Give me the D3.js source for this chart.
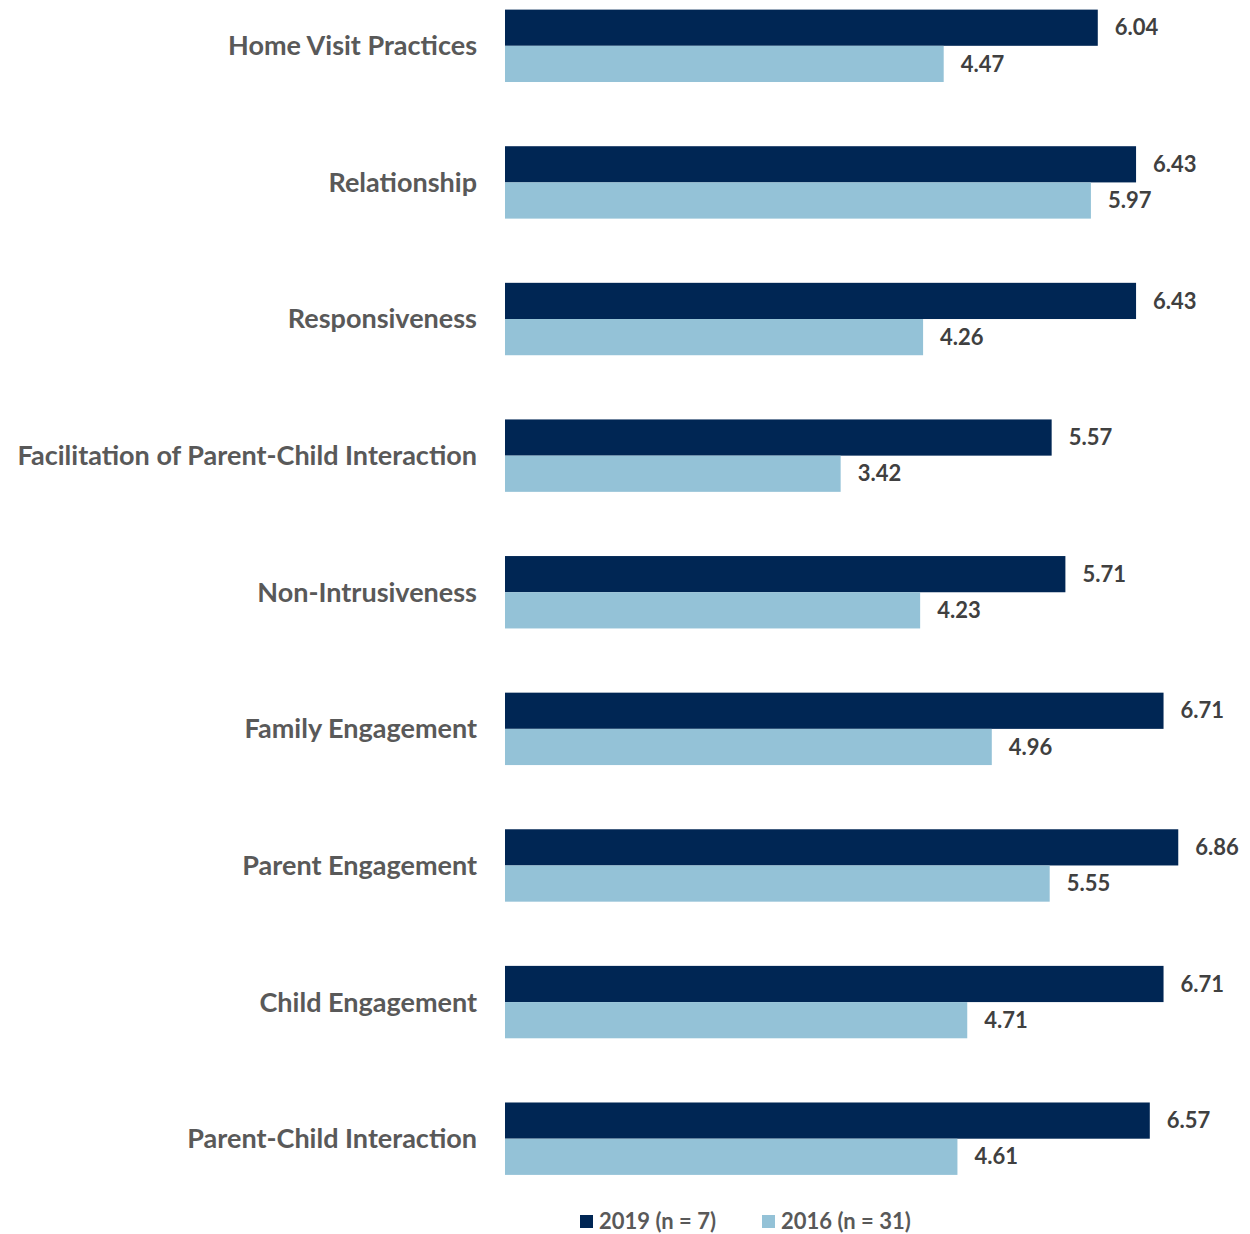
<!DOCTYPE html>
<html>
<head>
<meta charset="utf-8">
<script src="https://cdn.jsdelivr.net/npm/d3@7"></script>
<style>
    body { margin: 0; background: #fff; }
    svg { display: block; font-family: Lato, "Open Sans", sans-serif; }
    .cat-label { fill: #595959; font-weight: bold; font-size: 27px; }
    .val-label { fill: #404040; font-weight: bold; font-size: 22px; }
    .legend-label { fill: #595959; font-weight: bold; font-size: 22px; }
</style>
</head>
<body>
<svg id="chart" width="1250" height="1234"></svg>
<script>
var categories = [
    "Home Visit Practices",
    "Relationship",
    "Responsiveness",
    "Facilitation of Parent-Child Interaction",
    "Non-Intrusiveness",
    "Family Engagement",
    "Parent Engagement",
    "Child Engagement",
    "Parent-Child Interaction"
];
var values2019 = [6.04, 6.43, 6.43, 5.57, 5.71, 6.71, 6.86, 6.71, 6.57];
var values2016 = [4.47, 5.97, 4.26, 3.42, 4.23, 4.96, 5.55, 4.71, 4.61];
var seriesNames = ["2019 (n = 7)", "2016 (n = 31)"];
var seriesColors = ["#002654", "#94c2d7"];

(function () {
    var svg = d3.select("#chart");
    var left = 505;

    var x = d3.scaleLinear().domain([0, 7]).range([left, left + 687]);

    // 每组两根柱，组间距 ~137px
    var y = d3.scaleBand()
        .domain(categories)
        .range([-22.5, 1207])
        .paddingInner(0.47)
        .paddingOuter(0.235);

    var sub = d3.scaleBand()
        .domain([0, 1])
        .range([0, y.bandwidth()]);

    var rows = categories.map(function (c, i) {
        return { cat: c, vals: [values2019[i], values2016[i]] };
    });

    var g = svg.selectAll("g.row")
        .data(rows)
        .enter()
        .append("g")
        .classed("row", true)
        .attr("transform", function (d) { return "translate(0," + y(d.cat) + ")"; });

    g.selectAll("rect")
        .data(function (d) { return d.vals; })
        .enter()
        .append("rect")
        .attr("x", x(0))
        .attr("y", function (d, i) { return sub(i); })
        .attr("width", function (d) { return x(d) - x(0); })
        .attr("height", sub.bandwidth())
        .attr("fill", function (d, i) { return seriesColors[i]; });

    g.selectAll("text.val-label")
        .data(function (d) { return d.vals; })
        .enter()
        .append("text")
        .classed("val-label", true)
        .attr("x", function (d) { return x(d) + 17; })
        .attr("y", function (d, i) { return sub(i) + sub.bandwidth() / 2; })
        .attr("dy", "0.35em")
        .text(function (d) { return d.toFixed(2); });

    g.append("text")
        .classed("cat-label", true)
        .attr("x", left - 28)
        .attr("y", y.bandwidth() / 2)
        .attr("dy", "0.35em")
        .attr("text-anchor", "end")
        .text(function (d) { return d.cat; });

    // legend
    var legendX = [580, 762];
    var lg = svg.selectAll("g.legend")
        .data(seriesNames)
        .enter()
        .append("g")
        .classed("legend", true)
        .attr("transform", function (d, i) { return "translate(" + legendX[i] + ",1215)"; });

    lg.append("rect")
        .attr("width", 13)
        .attr("height", 13)
        .attr("fill", function (d, i) { return seriesColors[i]; });

    lg.append("text")
        .classed("legend-label", true)
        .attr("x", 19)
        .attr("y", 6.5)
        .attr("dy", "0.35em")
        .text(function (d) { return d; });
})();
</script>
</body>
</html>
